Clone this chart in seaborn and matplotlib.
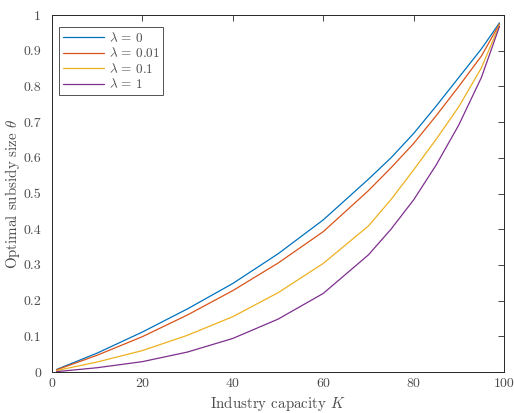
import numpy as np
import pandas as pd
import matplotlib
matplotlib.use("Agg")
import matplotlib.pyplot as plt
import seaborn as sns

K = [1, 10, 20, 30, 40, 50, 60, 70, 75, 80, 85, 90, 95, 99]
theta_l0 = [0.007, 0.053, 0.112, 0.177, 0.248, 0.331, 0.426, 0.540, 0.600, 0.668, 0.745, 0.825, 0.905, 0.978]
theta_l001 = [0.006, 0.047, 0.099, 0.160, 0.228, 0.305, 0.393, 0.508, 0.572, 0.640, 0.718, 0.800, 0.885, 0.975]
theta_l01 = [0.004, 0.028, 0.060, 0.103, 0.155, 0.222, 0.304, 0.409, 0.483, 0.566, 0.652, 0.743, 0.852, 0.972]
theta_l1 = [0.001, 0.012, 0.029, 0.056, 0.094, 0.148, 0.220, 0.328, 0.400, 0.482, 0.580, 0.692, 0.825, 0.968]
labels = [r"$\lambda\,=\,0$", r"$\lambda\,=\,0.01$", r"$\lambda\,=\,0.1$", r"$\lambda\,=\,1$"]
colors = ["#0072BD", "#D95319", "#EDB120", "#7E2F8E"]

frames = []
for lab, vals in zip(labels, [theta_l0, theta_l001, theta_l01, theta_l1]):
    frames.append(pd.DataFrame({"K": K, "theta": vals, "lam": lab}))
df = pd.concat(frames, ignore_index=True)

sns.set_style("white")
plt.rcParams["font.family"] = ["cmr10", "DejaVu Serif"]
plt.rcParams["mathtext.fontset"] = "cm"
plt.rcParams["axes.formatter.use_mathtext"] = True

tc = "#4d4d4d"
fig = plt.figure(figsize=(5.14, 4.13), dpi=100)
ax = fig.add_axes([52 / 514, 41 / 413, 452 / 514, 357 / 413])
sns.lineplot(data=df, x="K", y="theta", hue="lam", palette=colors, ax=ax,
             linewidth=0.9, legend=True)

ax.set_xlim(0, 100)
ax.set_ylim(0, 1)
xt = [0, 20, 40, 60, 80, 100]
yt = [0, 0.1, 0.2, 0.3, 0.4, 0.5, 0.6, 0.7, 0.8, 0.9, 1]
ax.set_xticks(xt)
ax.set_xticklabels([str(v) for v in xt])
ax.set_yticks(yt)
ax.set_yticklabels(["0"] + [f"{v:g}" for v in yt[1:-1]] + ["1"])
ax.tick_params(direction="in", length=4, width=0.6, top=True, right=True,
               colors="#262626", labelcolor=tc, labelsize=10)
ax.tick_params(axis="x", pad=4)
ax.tick_params(axis="y", pad=8)
for s in ax.spines.values():
    s.set_color("#262626")
    s.set_linewidth(0.7)

ax.set_xlabel(r"Industry capacity $K$", fontsize=10.8, color=tc)
ax.xaxis.set_label_coords(0.5, -0.062)
ax.set_ylabel(r"Optimal subsidy size $\theta$", fontsize=10.8, color=tc)
ax.yaxis.set_label_coords(-0.067, 0.5)

leg = ax.legend(loc="upper left", bbox_to_anchor=(0.016, 0.967), borderaxespad=0,
                fancybox=False, frameon=True, fontsize=9.5, handlelength=3.1,
                labelspacing=0.12, borderpad=0.3, handletextpad=0.35)
leg.get_frame().set_edgecolor("#262626")
leg.get_frame().set_linewidth(0.7)
for t in leg.get_texts():
    t.set_color(tc)

fig.savefig("out.png", dpi=100)
